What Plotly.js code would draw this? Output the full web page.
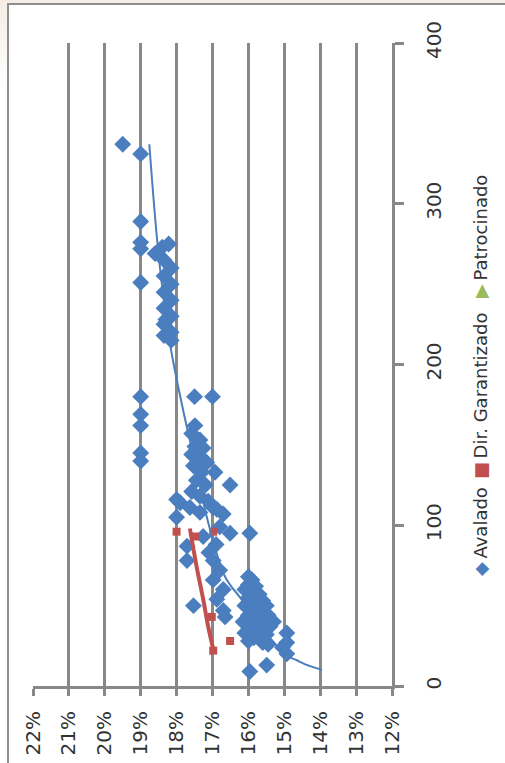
<!DOCTYPE html>
<html>
<head>
<meta charset="utf-8">
<script src="https://cdn.plot.ly/plotly-3.0.1.min.js"></script>
<style>
  html, body { margin:0; padding:0; background:#ffffff; }
  #wrap { position:relative; width:505px; height:763px; overflow:hidden; background:linear-gradient(180deg,#f3ede4 0px,#ffffff 90px); }
  #frame { position:absolute; left:7px; top:3px; width:600px; height:900px; border:2px solid #8e8e8e; background:#ffffff; }
  #chart { position:absolute; left:0; top:0; width:505px; height:763px; }
</style>
</head>
<body>
<div id="wrap">
  <div id="frame"></div>
  <div id="chart"></div>
</div>
<script>
// ---- data (rate in %, amount) ----
const seriesNames = ["Avalado", "Dir. Garantizado", "Patrocinado"];

const avaladoRate = [
  19.5, 19.0,
  19.0, 19.0, 19.0, 19.0, 19.0, 19.0, 19.0, 19.0, 19.0,
  18.6, 18.4, 18.22, 18.35, 18.15, 18.35, 18.15, 18.35, 18.15, 18.35, 18.15, 18.35, 18.15, 18.35, 18.15, 18.3,
  17.5, 17.0,
  17.49, 17.58, 17.35, 17.49, 17.26, 17.58, 17.35, 17.16, 17.53, 16.93, 17.3, 17.45, 17.2, 16.51,
  18.0, 17.58, 17.35, 17.12, 16.88, 16.7, 18.0,
  17.9, 17.63, 17.35, 16.98, 16.8, 16.51, 15.96, 17.26, 17.71, 17.71, 16.98, 16.8, 16.98, 16.7, 16.88, 17.53, 16.7, 16.65, 17.1, 16.9,
  16.0, 15.9, 16.0, 15.8, 16.1, 15.9, 15.7, 16.0, 15.6, 15.8, 16.1, 15.5, 15.9, 15.7, 16.0, 15.45, 15.8, 16.15, 15.6, 15.95, 15.4, 15.7, 16.1, 15.5, 15.85, 16.0, 15.6, 15.45, 15.3,
  14.93, 14.93, 14.93, 15.05,
  15.49, 15.96
];
const avaladoAmount = [
  337, 331,
  289, 276, 272, 251, 180, 169, 162, 145, 140,
  269, 273, 275, 265, 260, 255, 250, 245, 240, 235, 230, 225, 220, 218, 215, 228,
  180, 180,
  162, 157, 153, 149, 148, 144, 143, 139, 137, 133, 133, 128, 125, 125,
  116, 121, 118, 115, 110, 107, 105,
  114, 111, 108, 111, 99, 95, 95, 93, 87, 78, 78, 72, 66, 60, 54, 50, 47, 43, 83, 88,
  68, 66, 63, 62, 60, 58, 57, 55, 53, 52, 50, 50, 47, 46, 44, 44, 41, 40, 39, 37, 37, 34, 33, 32, 30, 28, 27, 26, 40,
  33, 27, 20, 24,
  13, 9
];

const garantRate   = [18.0, 17.49, 16.98, 17.02, 16.51, 16.98];
const garantAmount = [96, 93, 96, 43, 28, 22];

const patroRate = [];
const patroAmount = [];

// trend lines
const avaladoTrendRate   = [18.76, 18.5, 18.2, 17.85, 17.5, 17.1, 16.65, 16.23, 15.8, 15.4, 14.93, 14.65, 14.3, 13.95];
const avaladoTrendAmount = [337, 268, 215, 175, 140, 100, 68, 55, 42, 30, 19, 16, 12.5, 10];

const garantTrendRate   = [17.63, 17.44, 17.26, 17.12, 16.98];
const garantTrendAmount = [98, 74, 54, 37, 23];

const rateTicks = [22, 21, 20, 19, 18, 17, 16, 15, 14, 13, 12];
const amountTicks = [0, 100, 200, 300, 400];

// ---- styles ----
const BLUE = "#4a7ebf", RED = "#c0504d", GREEN = "#9bbb59", GRID = "#888888", TXT = "#333333";
const FONT = "DejaVu Sans";

const traces = [
  { x: avaladoRate, y: avaladoAmount, name: seriesNames[0], type: "scatter", mode: "markers",
    marker: { symbol: "diamond", size: 13, color: BLUE }, showlegend: false },
  { x: garantRate, y: garantAmount, name: seriesNames[1], type: "scatter", mode: "markers",
    marker: { symbol: "square", size: 8, color: RED }, showlegend: false },
  { x: patroRate, y: patroAmount, name: seriesNames[2], type: "scatter", mode: "markers",
    marker: { symbol: "triangle-up", size: 10, color: GREEN }, showlegend: false },
  { x: avaladoTrendRate, y: avaladoTrendAmount, type: "scatter", mode: "lines",
    line: { color: BLUE, width: 2, shape: "spline" }, showlegend: false, hoverinfo: "skip" },
  { x: garantTrendRate, y: garantTrendAmount, type: "scatter", mode: "lines",
    line: { color: RED, width: 4, shape: "spline" }, showlegend: false, hoverinfo: "skip" }
];

// plot area in px: x 33..392, y 43..686
const px = X => (X - 33) / 359;
const py = Y => (686 - Y) / 643;

const legendItems = [
  { sym: "◆", color: BLUE, yc: 532 },
  { sym: "■", color: RED, yc: 396 },
  { sym: "▶", color: GREEN, yc: 237 }
];

const annotations = legendItems.map((it, i) => ({
  xref: "paper", yref: "paper", x: px(480), y: py(it.yc),
  xanchor: "center", yanchor: "middle", showarrow: false, textangle: -90,
  text: "<span style='color:" + it.color + "'>" + it.sym + "</span>\u2009" + seriesNames[i],
  font: { family: FONT, size: 18, color: TXT }
}));

const layout = {
  width: 505, height: 763,
  margin: { l: 33, r: 113, t: 43, b: 77, pad: 0 },
  paper_bgcolor: "rgba(0,0,0,0)",
  plot_bgcolor: "#ffffff",
  showlegend: false,
  xaxis: {
    range: [22, 12], tickvals: rateTicks, ticktext: rateTicks.map(v => v + "%"),
    tickangle: -90, showgrid: true, gridcolor: GRID, gridwidth: 3,
    showline: true, linecolor: GRID, linewidth: 3,
    ticks: "outside", ticklen: 7, tickwidth: 3, tickcolor: GRID,
    ticklabelstandoff: 7,
    tickfont: { family: FONT, size: 20, color: TXT }, zeroline: false
  },
  yaxis: {
    range: [0, 400], tickvals: amountTicks, side: "right",
    tickangle: -90, showgrid: false,
    showline: true, linecolor: GRID, linewidth: 3,
    ticks: "outside", ticklen: 9, tickwidth: 3, tickcolor: GRID,
    ticklabelstandoff: 13,
    tickfont: { family: FONT, size: 20, color: TXT }, zeroline: false
  },
  annotations: annotations
};

Plotly.newPlot("chart", traces, layout, { displayModeBar: false, staticPlot: true });
</script>
</body>
</html>
